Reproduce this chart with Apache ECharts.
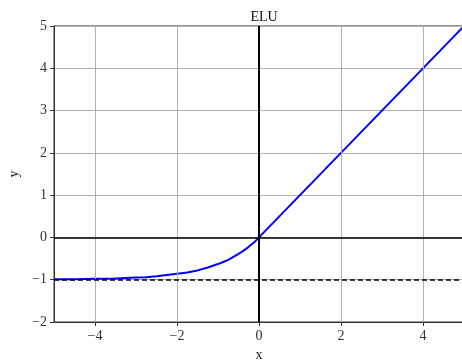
<!DOCTYPE html>
<html><head><meta charset="utf-8">
<script src="https://cdn.jsdelivr.net/npm/echarts@6/dist/echarts.min.js"></script>
<style>html,body{margin:0;padding:0;background:#fff}#c{width:462px;height:361px}</style>
</head><body><div id="c"></div>
<script>
const titleText = 'ELU';
const xName = 'x';
const yName = 'y';
const xTicks = [-4, -2, 0, 2, 4];
const xVals = [-5, -4.5, -4, -3.5, -3, -2.75, -2.5, -2.25, -2, -1.75, -1.5, -1.25, -1, -0.875, -0.75, -0.625, -0.5, -0.4, -0.3, -0.2, -0.1, 0, 5];
const yVals = [-0.99, -0.99, -0.98, -0.97, -0.95, -0.94, -0.92, -0.89, -0.86, -0.83, -0.78, -0.71, -0.63, -0.58, -0.53, -0.46, -0.39, -0.33, -0.26, -0.18, -0.1, 0, 5];
const asymptote = -1;

const FONT = '"Liberation Serif","DejaVu Serif",serif';
const fmt = v => String(v).replace('-', '\u2212');
const chart = echarts.init(document.getElementById('c'), null, {renderer: 'canvas'});
chart.setOption({
  animation: false,
  title: {text: titleText, left: 259, top: 5, textAlign: 'center',
    textStyle: {fontFamily: FONT, fontSize: 14, fontWeight: 'normal', color: '#111'}},
  grid: {left: 54, right: -2, top: 26, bottom: 39, outerBoundsMode: 'none', containLabel: false,
    show: true, borderColor: '#333', borderWidth: 1, backgroundColor: 'transparent'},
  xAxis: {type: 'value', min: -5, max: 5, name: xName, nameLocation: 'middle', nameGap: 24,
    nameTextStyle: {fontFamily: FONT, fontSize: 14, color: '#222'},
    axisLine: {show: true, onZero: false, lineStyle: {color: '#333', width: 1}},
    axisTick: {show: true, inside: false, length: 4, customValues: xTicks, lineStyle: {color: '#333'}},
    axisLabel: {customValues: xTicks, formatter: fmt, fontFamily: FONT, fontSize: 14, color: '#333', margin: 7},
    splitLine: {show: false}},
  yAxis: {type: 'value', min: -2, max: 5, interval: 1, name: yName, nameLocation: 'middle', nameGap: 28,
    nameTextStyle: {fontFamily: FONT, fontSize: 14, color: '#222'},
    axisLine: {show: true, onZero: false, lineStyle: {color: '#333', width: 1}},
    axisTick: {show: true, inside: false, length: 4, lineStyle: {color: '#333'}},
    axisLabel: {formatter: fmt, fontFamily: FONT, fontSize: 14, color: '#333', margin: 7},
    splitLine: {show: true, lineStyle: {color: '#b0b0b0', width: 1}}},
  series: [
    {type: 'line', data: [], z: 1, silent: true,
      markLine: {silent: true, symbol: 'none', label: {show: false},
        lineStyle: {color: '#b0b0b0', width: 1, type: 'solid'},
        data: xTicks.filter(v => v !== 0).map(v => ({xAxis: v}))}},
    {type: 'line', data: [], z: 2, silent: true,
      markLine: {silent: true, symbol: 'none', label: {show: false},
        data: [
          {yAxis: 0, lineStyle: {color: '#000', width: 1.5, type: 'solid'}},
          {xAxis: 0, lineStyle: {color: '#000', width: 2, type: 'solid'}},
          {yAxis: asymptote, lineStyle: {color: '#000', width: 1.5, type: [5, 3]}}
        ]}},
    {type: 'line', z: 3, showSymbol: false, symbol: 'none', smooth: false,
      lineStyle: {color: '#0000ff', width: 2},
      data: xVals.map((x, i) => [x, yVals[i]])}
  ]
});
</script></body></html>
